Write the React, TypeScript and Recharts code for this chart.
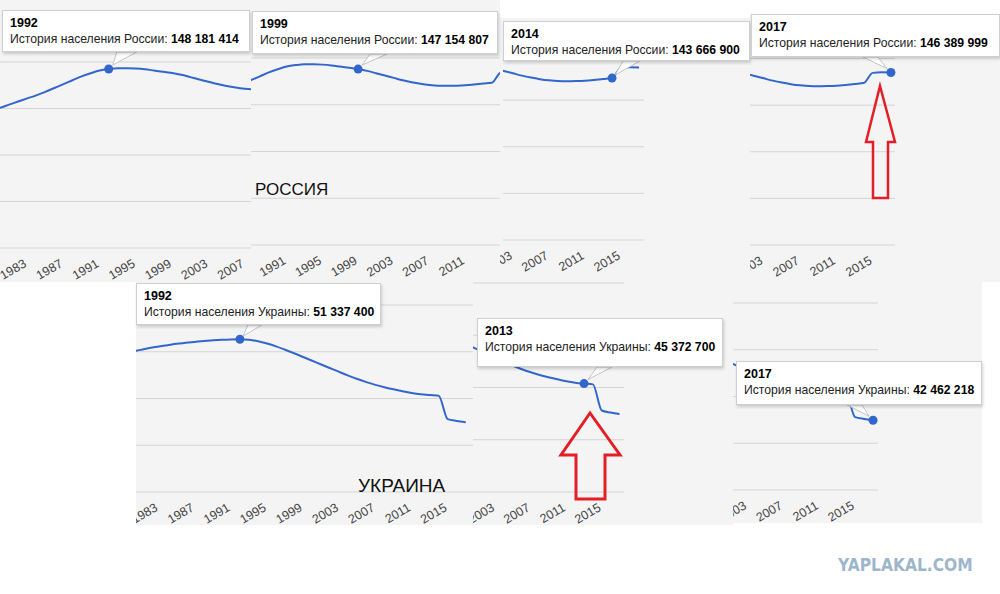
import React from "react";
import { CartesianGrid, Line, LineChart, ReferenceDot, XAxis, YAxis } from "recharts";

// population history, millions
const years = [
  1979, 1980, 1981, 1982, 1983, 1984, 1985, 1986, 1987, 1988, 1989, 1990, 1991,
  1992, 1993, 1994, 1995, 1996, 1997, 1998, 1999, 2000, 2001, 2002, 2003, 2004,
  2005, 2006, 2007, 2008, 2009, 2010, 2011, 2012, 2013, 2014, 2015, 2016, 2017,
];
const russiaMillions = [
  137.6, 138.2, 139.0, 139.8, 140.6, 141.4, 142.3, 143.3, 144.3, 145.3, 146.3, 147.1, 147.8,
  148.18, 148.4, 148.4, 148.3, 148.1, 147.8, 147.5, 147.15, 146.7, 146.1, 145.5, 144.9, 144.3,
  143.8, 143.4, 143.1, 142.9, 142.85, 142.9, 143.0, 143.2, 143.45, 143.67, 146.3, 146.45, 146.39,
];
const ukraineMillions = [
  49.8, 50.0, 50.2, 50.4, 50.55, 50.7, 50.85, 50.95, 51.05, 51.15, 51.22, 51.28, 51.32,
  51.34, 51.28, 51.12, 50.88, 50.58, 50.22, 49.84, 49.44, 49.04, 48.64, 48.24, 47.84, 47.45,
  47.08, 46.75, 46.46, 46.2, 45.98, 45.78, 45.6, 45.46, 45.37, 45.3, 42.8, 42.6, 42.46,
];

const tickYears = [1983, 1987, 1991, 1995, 1999, 2003, 2007, 2011, 2015];
const russiaGrid = [102, 114, 126, 138, 150];
const ukraineGrid = [35, 40, 45, 50, 55];

const russiaTipYears = [1992, 1999, 2014, 2017];
const russiaTipValues = [148181414, 147154807, 143666900, 146389999];
const ukraineTipYears = [1992, 2013, 2017];
const ukraineTipValues = [51337400, 45372700, 42462218];
const russiaTipLabel = "История населения России";
const ukraineTipLabel = "История населения Украины";

const russiaRows = years.map((year, i) => ({ year, value: russiaMillions[i] }));
const ukraineRows = years.map((year, i) => ({ year, value: ukraineMillions[i] }));

const BG = "#f4f4f4";
const GRID = "#d5d5d5";
const LINE = "#3366cc";
const ARROW = "#e41e26";
const FONT = "Arial, 'Liberation Sans', sans-serif";
const AXIS_H = 30;

type Rect = [number, number, number, number];

interface Panel {
  country: "ru" | "ua";
  tip: number;
  box: Rect; // gray screenshot area: left, top, right, bottom
  plot: Rect; // chart area inside it
  xDomain: [number, number];
  tipBox: Rect; // left, top, width, height
  ptr: Rect; // apex dx, apex dy, base x1 dx, base x2 dx (relative to the dot)
}

const panels: Panel[] = [
  { country: "ru", tip: 0, box: [0, 0, 251, 282], plot: [0, 62, 251, 248], xDomain: [1980, 2007.7], tipBox: [2, 10, 248, 42], ptr: [4, -4, 8, 28] },
  { country: "ru", tip: 1, box: [251, 0, 500, 282], plot: [251, 58, 500, 245], xDomain: [1987, 2014.9], tipBox: [252, 11, 246, 43], ptr: [4, -4, 12, 29] },
  { country: "ru", tip: 2, box: [500, 18, 750, 282], plot: [503, 53.5, 644, 240], xDomain: [2001.9, 2017.55], tipBox: [503, 21, 247, 40], ptr: [3, -3, 11, 28] },
  { country: "ru", tip: 3, box: [750, 14, 1000, 282], plot: [750, 58.5, 895, 245], xDomain: [2001.5, 2017.45], tipBox: [751, 14, 249, 43], ptr: [-4, -4, -28, -13] },
  { country: "ua", tip: 0, box: [136, 282, 473, 525], plot: [136, 305, 473, 492], xDomain: [1980.5, 2017.8], tipBox: [136, 283, 245, 42], ptr: [3, -3, 8, 22] },
  { country: "ua", tip: 1, box: [473, 282, 733, 525], plot: [473, 283, 624, 492], xDomain: [2000.5, 2017.5], tipBox: [477, 318, 246, 49], ptr: [4, -4, 13, 28] },
  { country: "ua", tip: 2, box: [733, 282, 982, 523], plot: [733, 303, 878, 490], xDomain: [2001.4, 2017.55], tipBox: [736, 361, 246, 44], ptr: [-4, -4, -26, -11] },
];

// red outline arrows drawn over the collage
const arrowOutlines = [
  { width: 2.5, points: [[880, 86], [895, 142], [888, 142], [888, 198], [873, 198], [873, 142], [866, 142]] },
  { width: 3, points: [[590, 413], [620, 455], [605, 455], [605, 499], [576, 499], [576, 455], [561, 455]] },
];

const formatPeople = (n: number) => String(n).replace(/\B(?=(\d{3})+(?!\d))/g, " ");

function SlantTick(props: any) {
  const { x, y, payload } = props;
  const ty = y + 18;
  return (
    <text
      x={x}
      y={ty}
      textAnchor="end"
      fontSize={12.5}
      fontFamily={FONT}
      fill="#444"
      transform={`rotate(-30 ${x} ${ty})`}
    >
      {payload.value}
    </text>
  );
}

function PopulationPanel({ p }: { p: Panel }) {
  const [bl, bt, br, bb] = p.box;
  const [pl, pt, pr, pb] = p.plot;
  const w = br - bl;
  const h = bb - bt;
  const ru = p.country === "ru";
  const rows = ru ? russiaRows : ukraineRows;
  const grid = ru ? russiaGrid : ukraineGrid;
  const tipYear = (ru ? russiaTipYears : ukraineTipYears)[p.tip];
  const tipValue = (ru ? russiaTipValues : ukraineTipValues)[p.tip];
  const ticks = tickYears.filter((t) => t >= p.xDomain[0] && t <= p.xDomain[1]);
  const baseY = p.tipBox[1] + p.tipBox[3] - bt;
  const [ax, ay, b1, b2] = p.ptr;

  const focus = (s: any) => (
    <g>
      <polygon
        points={`${s.cx + ax},${s.cy + ay} ${s.cx + b1},${baseY} ${s.cx + b2},${baseY}`}
        fill="#fff"
        stroke="#c4c4c4"
      />
      <circle cx={s.cx} cy={s.cy} r={4.5} fill={LINE} />
    </g>
  );

  return (
    <div style={{ position: "absolute", left: bl, top: bt, width: w, height: h, background: BG, overflow: "hidden" }}>
      <LineChart
        width={w}
        height={h}
        data={rows}
        margin={{ top: pt - bt, left: pl - bl, right: br - pr, bottom: bb - pb - AXIS_H }}
      >
        <CartesianGrid vertical={false} stroke={GRID} />
        <XAxis
          type="number"
          dataKey="year"
          domain={p.xDomain}
          allowDataOverflow
          ticks={ticks}
          interval={0}
          tick={<SlantTick />}
          tickLine={false}
          axisLine={false}
          tickSize={0}
          tickMargin={0}
          height={AXIS_H}
        />
        <YAxis hide domain={[grid[0], grid[grid.length - 1]]} ticks={grid} allowDataOverflow />
        <Line
          type="monotone"
          dataKey="value"
          stroke={LINE}
          strokeWidth={2}
          dot={false}
          activeDot={false}
          isAnimationActive={false}
        />
        <ReferenceDot x={tipYear} y={tipValue / 1e6} r={4.5} shape={focus} />
      </LineChart>
    </div>
  );
}

function TipBox({ p }: { p: Panel }) {
  const [l, t, w, h] = p.tipBox;
  const ru = p.country === "ru";
  const year = (ru ? russiaTipYears : ukraineTipYears)[p.tip];
  const value = (ru ? russiaTipValues : ukraineTipValues)[p.tip];
  return (
    <div
      style={{
        position: "absolute",
        left: l,
        top: t,
        width: w,
        height: h,
        boxSizing: "border-box",
        background: "#fff",
        border: "1px solid #cfcfcf",
        boxShadow: "1px 2px 3px rgba(0,0,0,0.18)",
        padding: "5px 7px",
        fontFamily: FONT,
        fontSize: 12.2,
        lineHeight: "15.5px",
        color: "#222",
        whiteSpace: "nowrap",
        overflow: "hidden",
      }}
    >
      <div style={{ fontWeight: "bold", color: "#000", fontSize: 12.5 }}>{year}</div>
      <div>
        {ru ? russiaTipLabel : ukraineTipLabel}: <b style={{ color: "#000" }}>{formatPeople(value)}</b>
      </div>
    </div>
  );
}

export default function App() {
  return (
    <div
      style={{
        position: "absolute",
        left: 0,
        top: 0,
        width: 1000,
        height: 594,
        background: "#fff",
        overflow: "hidden",
        fontFamily: FONT,
      }}
    >
      {panels.map((p, i) => (
        <PopulationPanel key={i} p={p} />
      ))}
      {panels.map((p, i) => (
        <TipBox key={i} p={p} />
      ))}

      <div style={{ position: "absolute", left: 255, top: 180, fontSize: 17, lineHeight: "20px", color: "#111" }}>
        РОССИЯ
      </div>
      <div style={{ position: "absolute", left: 358, top: 475, fontSize: 19, lineHeight: "22px", color: "#111" }}>
        УКРАИНА
      </div>

      <svg width={1000} height={594} style={{ position: "absolute", left: 0, top: 0, pointerEvents: "none" }}>
        {arrowOutlines.map((a, i) => (
          <polygon
            key={i}
            points={a.points.map((pt) => pt.join(",")).join(" ")}
            fill="none"
            stroke={ARROW}
            strokeWidth={a.width}
          />
        ))}
      </svg>

      <div
        style={{
          position: "absolute",
          left: 838,
          top: 556,
          fontFamily: "'DejaVu Sans', sans-serif",
          fontWeight: "bold",
          fontSize: 15.5,
          lineHeight: "18px",
          color: "#9db6cb",
          transform: "scaleY(1.15)",
        }}
      >
        YAPLAKAL.COM
      </div>
    </div>
  );
}
